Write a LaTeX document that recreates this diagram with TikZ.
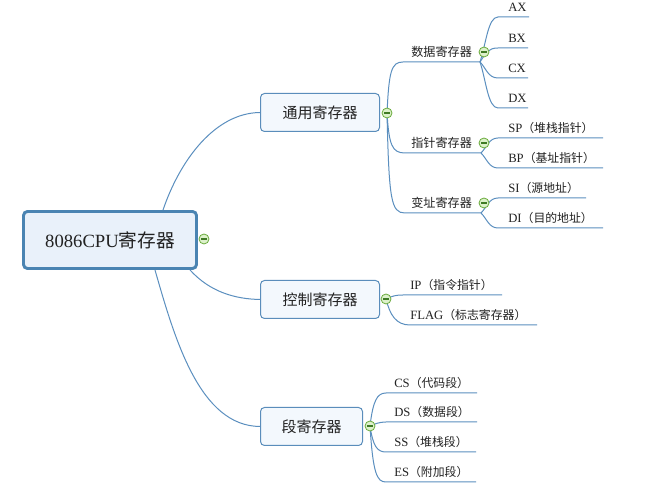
\documentclass[tikz,border=0pt]{standalone}
\usepackage{fontspec}
\setmainfont{Liberation Serif}
\newfontfamily\cjk{Noto Sans CJK SC}
\usepackage{tikz}
\usetikzlibrary{calc}

\definecolor{linkblue}{HTML}{5B8FBF}
\definecolor{rootline}{HTML}{4A84B2}
\definecolor{rootfill}{HTML}{E9F1FA}
\definecolor{topicline}{HTML}{5A8DBB}
\definecolor{topicfill}{HTML}{F3F8FD}
\definecolor{foldline}{HTML}{6AAB3C}
\definecolor{foldfill}{HTML}{DDF1CB}
\definecolor{foldminus}{HTML}{3F7A25}
\definecolor{ink}{HTML}{222222}

\newcommand{\zh}[1]{{\cjk #1}}
\newcommand{\zhs}[1]{{\cjk\fontsize{8.9pt}{10pt}\selectfont #1}}

\tikzset{
  rootbox/.style={draw=rootline, line width=2.2pt, fill=rootfill, rounded corners=3pt, minimum width=129.75pt, minimum height=42.75pt, inner sep=0pt, text=ink, font=\fontsize{14pt}{16pt}\selectfont},
  topic/.style={draw=topicline, line width=0.75pt, fill=topicfill, rounded corners=3pt, minimum height=28.5pt, inner sep=0pt, text=ink, font=\cjk\fontsize{11.25pt}{13pt}\selectfont},
  sub/.style={anchor=base west, inner sep=0pt, text=ink, font=\cjk\fontsize{9.1pt}{11pt}\selectfont},
  leaf/.style={anchor=base west, inner sep=0pt, text=ink, font=\fontsize{9.5pt}{11pt}\selectfont},
  link/.style={draw=linkblue, line width=0.75pt},
  fold/.style={circle, draw=foldline, fill=foldfill, line width=0.6pt, minimum size=7.5pt, inner sep=0pt,
    path picture={\draw[foldminus, line width=0.9pt] ([xshift=-2.1pt]path picture bounding box.center) -- ([xshift=2.1pt]path picture bounding box.center);}}
}

\begin{document}
\begin{tikzpicture}[x=0.75pt,y=-0.75pt]
\fill[white] (0,0) rectangle (650,498);
\useasboundingbox (0,0) rectangle (650,498);

% main topics
\node[rootbox] (root) at (110,240) {8086CPU\zh{寄存器}};
\node[topic, minimum width=89.25pt] (tong) at (320,112.5) {通用寄存器};
\node[topic, minimum width=89.25pt] (ctrl) at (320,299.5) {控制寄存器};
\node[topic, minimum width=76.5pt] (seg) at (311.5,426.5) {段寄存器};

\draw[link] ($(root.north)+(53,0)$) .. controls (180,160) and (215,113) .. (tong.west);
\draw[link] ($(root.south)+(80,0)$) .. controls (210,292) and (235,299) .. (ctrl.west);
\draw[link] ($(root.south)+(45,0)$) .. controls (175,340) and (200,426) .. (seg.west);

% fold buttons
\coordinate (root-c) at (204,239);
\coordinate (tong-c) at (387,113);
\coordinate (ctrl-c) at (386,299);
\coordinate (seg-c) at (370,426);
\coordinate (data-c) at (484,52);
\coordinate (ptr-c) at (484,143);
\coordinate (idx-c) at (484,203);

% second level under tong
\node[sub] (data) at (411,57) {数据寄存器};
\node[sub] (ptr) at (411,148) {指针寄存器};
\node[sub] (idx) at (411,208) {变址寄存器};
\coordinate (data-s) at (403,62);  \coordinate (data-e) at (480,62);
\coordinate (ptr-s) at (405,153);  \coordinate (ptr-e) at (481,153);
\coordinate (idx-s) at (405,213);  \coordinate (idx-e) at (481,213);
\draw[link] (tong-c) .. controls (389,72) and (391,62) .. (data-s) -- (data-e);
\draw[link] (tong-c) .. controls (389,145) and (392,153) .. (ptr-s) -- (ptr-e);
\draw[link] (tong-c) .. controls (389,200) and (391,213) .. (idx-s) -- (idx-e);

% leaves
\node[leaf] (ax) at (508,12) {AX};
\node[leaf] (bx) at (508,43) {BX};
\node[leaf] (cx) at (508,73) {CX};
\node[leaf] (dx) at (508,103) {DX};
\node[leaf] (sp) at (508,133) {SP\zhs{（堆栈指针）}};
\node[leaf] (bp) at (508,163) {BP\zhs{（基址指针）}};
\node[leaf] (si) at (508,193) {SI\zhs{（源地址）}};
\node[leaf] (di) at (508,223) {DI\zhs{（目的地址）}};
\draw[link] (data-e) .. controls (486,44) and (488,17) .. (498,17) coordinate (ax-s) -- (529,17) coordinate (ax-e);
\draw[link] (data-e) .. controls (486,53) and (488,48) .. (498,48) coordinate (bx-s) -- (528,48) coordinate (bx-e);
\draw[link] (data-e) .. controls (486,68) and (488,78) .. (498,78) coordinate (cx-s) -- (528,78) coordinate (cx-e);
\draw[link] (data-e) .. controls (486,80) and (488,108) .. (498,108) coordinate (dx-s) -- (528,108) coordinate (dx-e);
\draw[link] (ptr-e) .. controls (487,147) and (489,138) .. (498,138) coordinate (sp-s) -- (603,138) coordinate (sp-e);
\draw[link] (ptr-e) .. controls (487,159) and (489,168) .. (498,168) coordinate (bp-s) -- (603,168) coordinate (bp-e);
\draw[link] (idx-e) .. controls (487,207) and (489,198) .. (498,198) coordinate (si-s) -- (586,198) coordinate (si-e);
\draw[link] (idx-e) .. controls (487,219) and (489,228) .. (498,228) coordinate (di-s) -- (603,228) coordinate (di-e);

% leaves under ctrl
\node[leaf] (ip) at (410,290) {IP\zhs{（指令指针）}};
\node[leaf] (flag) at (410,320) {FLAG\zhs{（标志寄存器）}};
\draw[link] (ctrl-c) .. controls (392,296) and (396,295) .. (403,295) coordinate (ip-s) -- (502,295) coordinate (ip-e);
\draw[link] (ctrl-c) .. controls (390,315) and (396,325) .. (410,325) coordinate (flag-s) -- (537,325) coordinate (flag-e);

% leaves under seg
\node[leaf] (cs) at (394,388) {CS\zhs{（代码段）}};
\node[leaf] (ds) at (394,417) {DS\zhs{（数据段）}};
\node[leaf] (ss) at (394,447) {SS\zhs{（堆栈段）}};
\node[leaf] (es) at (394,477) {ES\zhs{（附加段）}};
\draw[link] (seg-c) .. controls (373,401) and (377,393) .. (386,393) coordinate (cs-s) -- (477,393) coordinate (cs-e);
\draw[link] (seg-c) .. controls (375,424) and (379,422) .. (386,422) coordinate (ds-s) -- (477,422) coordinate (ds-e);
\draw[link] (seg-c) .. controls (373,446) and (377,452) .. (386,452) coordinate (ss-s) -- (476,452) coordinate (ss-e);
\draw[link] (seg-c) .. controls (373,474) and (377,482) .. (386,482) coordinate (es-s) -- (476,482) coordinate (es-e);

% buttons on top
\foreach \c in {root-c,tong-c,ctrl-c,seg-c,data-c,ptr-c,idx-c}
  \node[fold] at (\c) {};
\end{tikzpicture}
\end{document}
